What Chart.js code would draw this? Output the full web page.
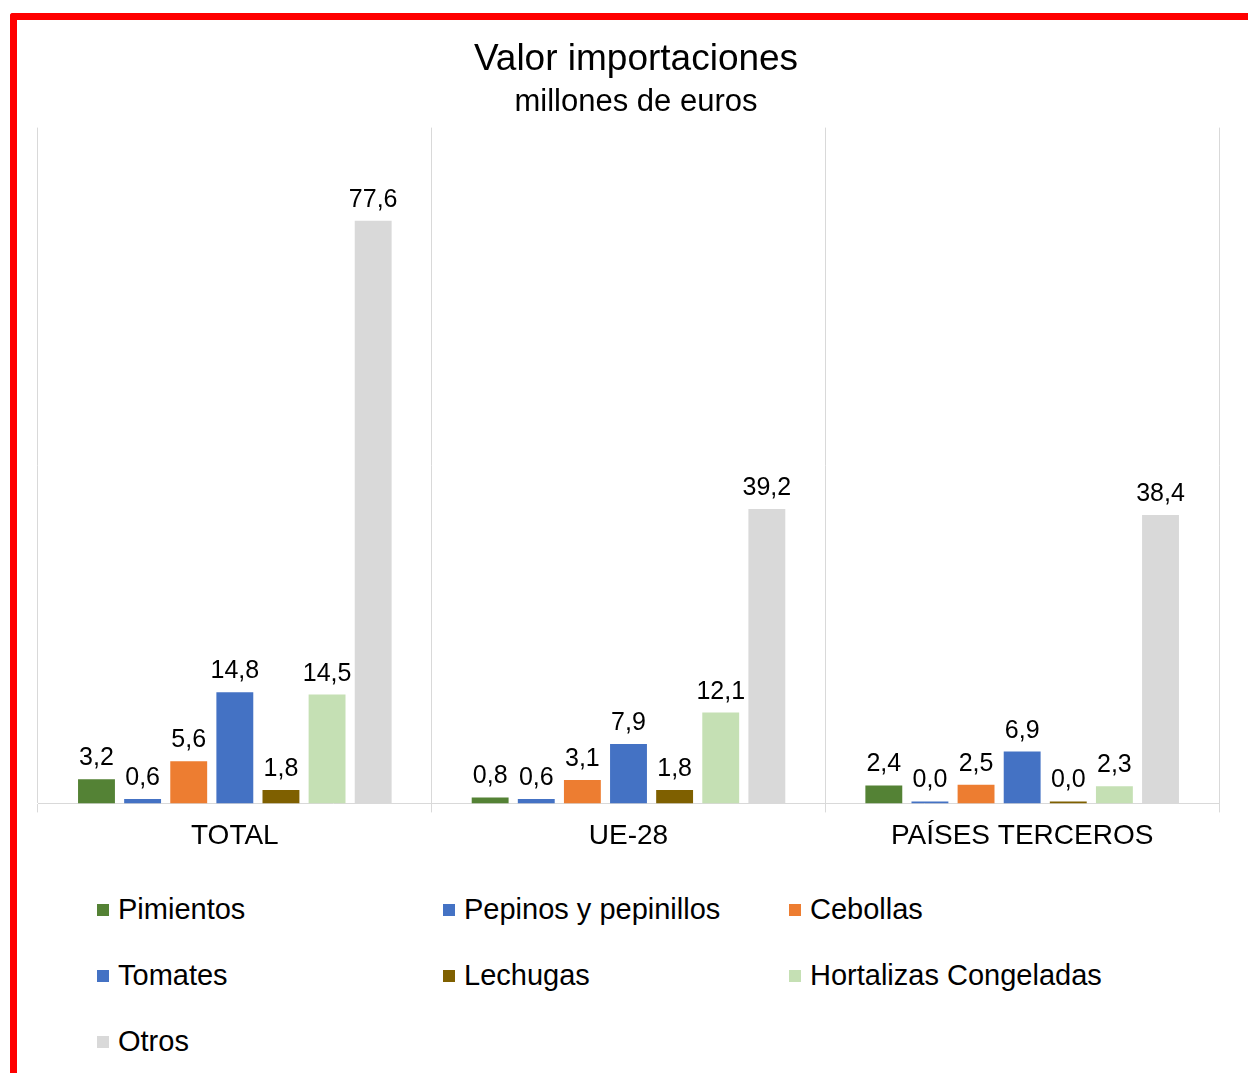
<!DOCTYPE html>
<html>
<head>
<meta charset="utf-8">
<script src="https://cdn.jsdelivr.net/npm/chart.js@4/dist/chart.umd.min.js"></script>
<style>
  body { margin:0; background:#fff; width:1248px; height:1073px; overflow:hidden; position:relative; font-family:"Liberation Sans", Arial, sans-serif; }
  #frame { position:absolute; left:10px; top:13px; width:1300px; height:1100px; border-left:7px solid #ff0000; border-top:7px solid #ff0000; border-top-left-radius:3px; }
  #wrap { position:absolute; left:0; top:0; width:1248px; height:870px; }
  #legend { position:absolute; left:97px; top:886px; display:grid; grid-template-columns:346px 346px 346px; grid-auto-rows:66px; }
  .item { display:flex; align-items:center; font-size:29px; color:#000; height:46px; }
  .box { width:12px; height:12px; margin-right:9px; margin-top:2px; }
</style>
</head>
<body>
<div id="frame"></div>
<div id="wrap"><canvas id="myChart"></canvas></div>
<div id="legend"></div>
<script>
    var categories=["TOTAL","UE-28","PAÍSES TERCEROS"];
    var seriesNames=["Pimientos","Pepinos y pepinillos","Cebollas","Tomates","Lechugas","Hortalizas Congeladas","Otros"];
    var seriesColors=["#548235","#4472C4","#ED7D31","#4472C4","#7F6000","#C5E0B4","#D9D9D9"];
    var pimientos=[3.2,0.8,2.4];
    var pepinos=[0.6,0.6,0.0];
    var cebollas=[5.6,3.1,2.5];
    var tomates=[14.8,7.9,6.9];
    var lechugas=[1.8,1.8,0.0];
    var hortalizas=[14.5,12.1,2.3];
    var otros=[77.6,39.2,38.4];
    var seriesValues=[pimientos,pepinos,cebollas,tomates,lechugas,hortalizas,otros];

    var font='"Liberation Sans", Arial, sans-serif';

    function fmt(v){
        return v.toFixed(1).replace('.',',');
    }

    // value labels above each bar
    var barLabels={
        id:'barLabels',
        afterDatasetsDraw:function(chart){
            var ctx=chart.ctx;
            ctx.save();
            ctx.font='25px '+font;
            ctx.fillStyle='#000';
            ctx.textAlign='center';
            ctx.textBaseline='alphabetic';
            chart.data.datasets.forEach(function(ds,i){
                chart.getDatasetMeta(i).data.forEach(function(bar,j){
                    ctx.fillText(fmt(ds.data[j]),bar.x,bar.y-14);
                });
            });
            ctx.restore();
        }
    };

    var datasets=[];
    seriesNames.forEach(function(name,i){
        datasets.push({
            label:name,
            data:seriesValues[i],
            backgroundColor:seriesColors[i],
            categoryPercentage:0.82,
            barPercentage:0.8,
            minBarLength:2
        });
    });

    var ctx=document.getElementById('myChart').getContext('2d');
    var myChart=new Chart(ctx,{
        type:'bar',
        data:{labels:categories,datasets:datasets},
        plugins:[barLabels],
        options:{
            responsive:true,
            maintainAspectRatio:false,
            animation:false,
            layout:{padding:{top:38,left:38,right:14,bottom:10}},
            plugins:{
                legend:{display:false},
                tooltip:{enabled:false},
                title:{display:true,text:'Valor importaciones',color:'#000',font:{family:font,size:37,weight:'normal'},padding:{top:0,bottom:1}},
                subtitle:{display:true,text:'millones de euros',color:'#000',font:{family:font,size:31,weight:'normal'},padding:{top:0,bottom:7}}
            },
            scales:{
                x:{
                    grid:{color:'#D9D9D9',lineWidth:1,offset:true,tickLength:9},
                    border:{display:true,color:'#D9D9D9'},
                    ticks:{color:'#000',font:{family:font,size:28},padding:7}
                },
                y:{
                    position:'right',min:0,max:90,
                    grid:{display:false},border:{display:false},
                    ticks:{display:false},
                    afterFit:function(scale){ scale.width=15; }
                }
            }
        }
    });

    var legend=document.getElementById('legend');
    seriesNames.forEach(function(name,i){
        var item=document.createElement('div');
        item.className='item';
        var box=document.createElement('span');
        box.className='box';
        box.style.background=seriesColors[i];
        item.appendChild(box);
        item.appendChild(document.createTextNode(name));
        legend.appendChild(item);
    });
</script>
</body>
</html>
